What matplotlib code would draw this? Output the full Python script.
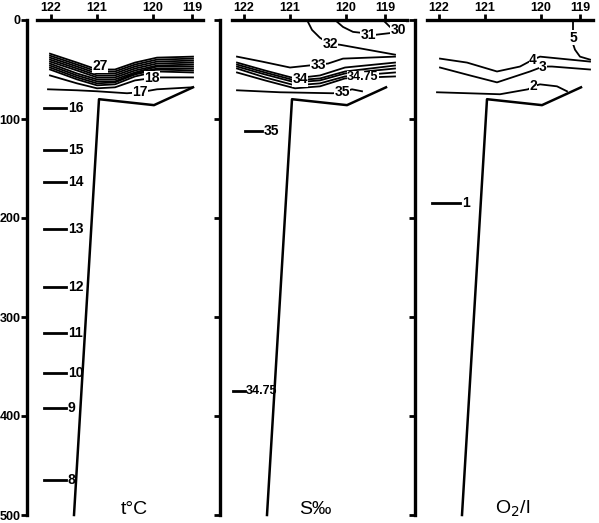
import matplotlib.pyplot as plt

# section axis (arbitrary distance units), longitude ticks along the top
LON_TICKS = [24, 70, 126, 165]
LON_LABELS = ['122', '121', '120', '119']
DEPTH_TICKS = [0, 100, 200, 300, 400, 500]

# station / bottom profile shared by all three panels
PROFILE_X = [47, 72, 127, 166]
PROFILE_D = [500, 80, 86, 68]

# temperature, t°C
T_BAND_X = [23, 50, 70, 88, 108, 130, 166]
T_BAND_LEVELS = [27, 26, 25, 24, 23, 22, 21, 20, 19, 18]
T_BAND_D = [
    [34, 43, 50, 50, 43, 38, 37],
    [36, 45, 52, 52, 45, 40, 39],
    [38, 47, 54, 54, 47, 42, 41],
    [40, 49, 56, 56, 49, 44, 43],
    [42, 51, 58, 58, 51, 46, 45],
    [44, 54, 60, 60, 53, 47, 47],
    [46, 56, 62, 62, 54, 49, 49],
    [48, 58, 64, 63, 55, 50, 51],
    [50, 60, 66, 65, 57, 52, 53],
    [56, 64, 69, 68, 61, 58, 58],
]
T17_X = [21, 50, 70, 100, 113, 130, 165]
T17_D = [70, 71, 72, 74, 73, 70, 68]
T_MARK_VALUES = ['16', '15', '14', '13', '12', '11', '10', '9', '8']
T_MARK_D = [89, 131, 164, 211, 270, 316, 357, 392, 465]

# salinity, S‰
S30_X = [163, 170, 178]
S30_D = [0, 7, 10]
S31_X = [115, 123, 133, 142, 148, 155, 172]
S31_D = [0, 7, 12, 13, 15, 15, 13]
S32_X = [87, 92, 100, 110, 120, 175]
S32_D = [0, 10, 18, 24, 25, 35]
S33_X = [17, 42, 70, 98, 108, 123, 175]
S33_D = [37, 42, 48, 45, 44, 39, 37]
S_BAND_X = [17, 45, 75, 100, 125, 175]
S_BAND_LEVELS = [33.5, 34, 34.25, 34.5, 34.75]
S_BAND_D = [
    [43, 51, 59, 56, 48, 43],
    [45, 53, 61, 59, 52, 46],
    [47, 55, 63, 61, 54, 49],
    [49, 58, 66, 64, 57, 53],
    [53, 61, 69, 67, 59, 57],
]
S35_X = [17, 60, 113, 122, 132, 142]
S35_D = [71, 73, 74, 73, 70, 72]
S_MARK_VALUES = ['35', '34.75']
S_MARK_D = [112, 375]

# oxygen, O2/l
O5_X = [158, 158, 158, 160, 165, 175]
O5_D = [0, 12, 24, 30, 37, 40]
O4_X = [25, 52, 82, 105, 118, 125, 175]
O4_D = [39, 43, 52, 47, 40, 37, 42]
O3_X = [25, 55, 82, 115, 128, 137, 175]
O3_D = [48, 56, 63, 52, 47, 47, 50]
O2_X = [22, 85, 113, 118, 125, 142, 152]
O2_D = [73, 75, 70, 67, 65, 67, 72]
O_MARK_VALUES = ['1']
O_MARK_D = [185]

plt.rcParams['font.family'] = ['Liberation Sans Narrow', 'Liberation Sans', 'DejaVu Sans']

W, H = 599, 523
fig = plt.figure(figsize=(W / 100, H / 100), dpi=100)

spine_px = [27, 220, 415]
top_bounds = [(10, 176), (12, 187), (12, 178)]
axes = []
for i, sx in enumerate(spine_px):
    ax = fig.add_axes([sx / W, 8 / H, 186 / W, 495 / H])
    ax.set_xlim(0, 186)
    ax.set_ylim(500, 0)
    for s in ['right', 'bottom']:
        ax.spines[s].set_visible(False)
    ax.spines['left'].set_linewidth(2.4)
    ax.spines['top'].set_linewidth(2.4)
    ax.spines['top'].set_bounds(*top_bounds[i])
    ax.xaxis.tick_top()
    ax.set_xticks(LON_TICKS)
    ax.set_xticklabels(LON_LABELS, fontsize=9, fontweight='bold')
    ax.tick_params(axis='x', length=4, width=2, pad=0.5)
    ax.set_yticks(DEPTH_TICKS)
    ax.tick_params(axis='y', length=4, width=2, pad=0.5, labelsize=9)
    if i == 0:
        ax.set_yticklabels([str(d) for d in DEPTH_TICKS], fontweight='bold')
    else:
        ax.set_yticklabels([])
    ax.patch.set_alpha(0)
    ax.plot(PROFILE_X, PROFILE_D, color='black', lw=1.8, clip_on=False)
    axes.append(ax)

lw = 1.3
lab = dict(fontsize=10, fontweight='bold', ha='center', va='center', zorder=5,
           bbox=dict(facecolor='white', edgecolor='none', pad=0.3))


def marks(ax, values, depths, x0, x1):
    for v, d in zip(values, depths):
        ax.plot([x0, x1], [d, d], color='black', lw=2)
        ax.text(x1 + 2, d, v, fontsize=10, fontweight='bold', ha='left', va='center')


# temperature panel
ax = axes[0]
for d in T_BAND_D:
    ax.plot(T_BAND_X, d, color='black', lw=lw)
ax.plot(T17_X, T17_D, color='black', lw=lw)
ax.text(73, 46, '27', **lab)
ax.text(125, 59, '18', **lab)
ax.text(113, 73, '17', **lab)
marks(ax, T_MARK_VALUES, T_MARK_D, 17, 39)
ax.text(107, 494, 't°C', fontsize=14, ha='center', va='center')

# salinity panel
ax = axes[1]
for xs, ds in [(S30_X, S30_D), (S31_X, S31_D), (S32_X, S32_D), (S33_X, S33_D), (S35_X, S35_D)]:
    ax.plot(xs, ds, color='black', lw=lw)
for d in S_BAND_D:
    ax.plot(S_BAND_X, d, color='black', lw=lw)
ax.text(178, 10, '30', **lab)
ax.text(148, 15, '31', **lab)
ax.text(110, 24, '32', **lab)
ax.text(98, 45, '33', **lab)
ax.text(80, 60, '34', **lab)
ax.text(143, 58, '34.75', **{**lab, 'fontsize': 9})
ax.text(122, 73, '35', **lab)
ax.plot([25, 42], [S_MARK_D[0]] * 2, color='black', lw=2)
ax.text(44, S_MARK_D[0], S_MARK_VALUES[0], fontsize=10, fontweight='bold', ha='left', va='center')
ax.plot([13, 25], [S_MARK_D[1]] * 2, color='black', lw=2)
ax.text(26, S_MARK_D[1], S_MARK_VALUES[1], fontsize=9, fontweight='bold', ha='left', va='center')
ax.text(95, 494, 'S‰', fontsize=14, ha='center', va='center')

# oxygen panel
ax = axes[2]
for xs, ds in [(O5_X, O5_D), (O4_X, O4_D), (O3_X, O3_D), (O2_X, O2_D)]:
    ax.plot(xs, ds, color='black', lw=lw)
ax.text(158, 18, '5', **lab)
ax.text(118, 40, '4', **lab)
ax.text(128, 47, '3', **lab)
ax.text(118, 67, '2', **lab)
marks(ax, O_MARK_VALUES, O_MARK_D, 17, 45)
ax.text(98, 494, 'O$_2$/l', fontsize=14, ha='center', va='center')

fig.savefig('out.png', dpi=100)
